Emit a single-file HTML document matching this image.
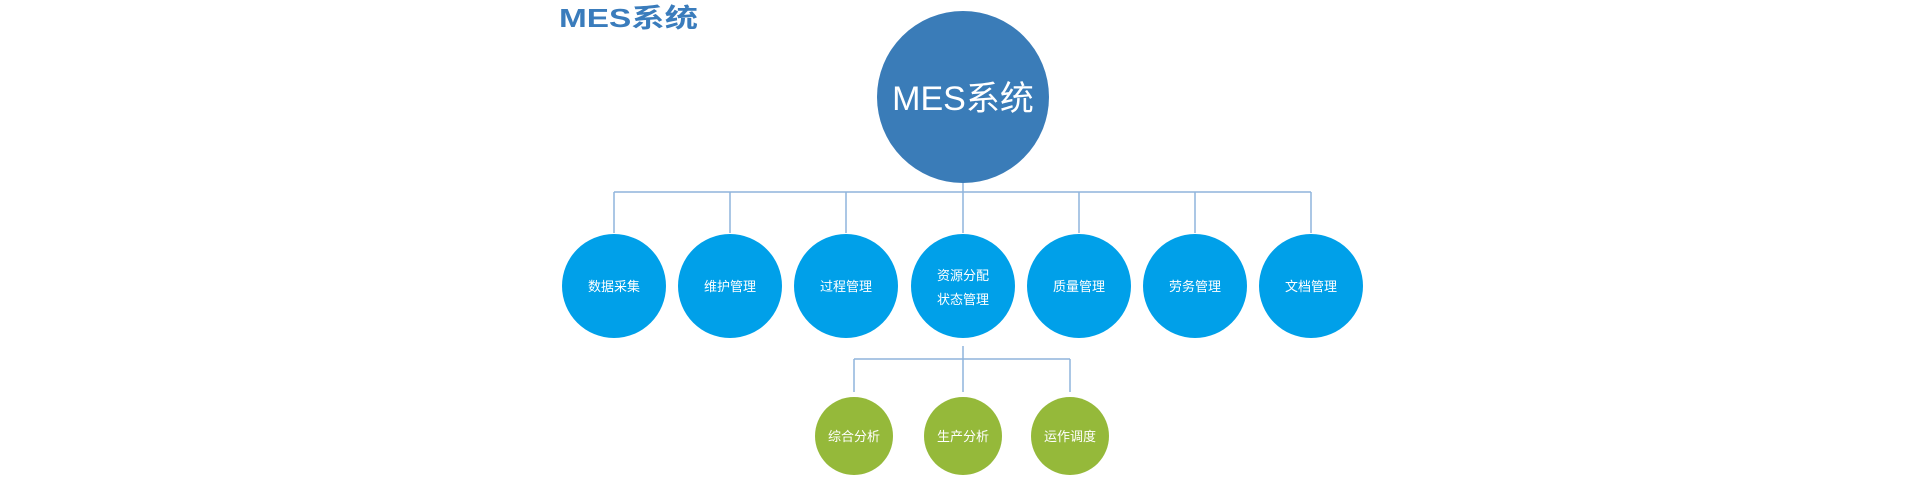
<!DOCTYPE html>
<html><head><meta charset="utf-8"><style>
html,body{margin:0;padding:0;background:#fff;width:1920px;height:500px;overflow:hidden}
</style></head><body>
<svg width="1920" height="500" xmlns="http://www.w3.org/2000/svg" style="display:block">
<text x="559" y="27" font-family="Liberation Sans, Noto Sans CJK SC, sans-serif" font-size="26" font-weight="bold" fill="#3a7cbc" textLength="139" lengthAdjust="spacingAndGlyphs">MES系统</text>
<g stroke="#8fb4dc" stroke-width="1.5" fill="none">
<line x1="614" y1="192" x2="1311" y2="192"/>
<line x1="963" y1="183" x2="963" y2="233"/>
<line x1="614" y1="192" x2="614" y2="233"/>
<line x1="730" y1="192" x2="730" y2="233"/>
<line x1="846" y1="192" x2="846" y2="233"/>
<line x1="1079" y1="192" x2="1079" y2="233"/>
<line x1="1195" y1="192" x2="1195" y2="233"/>
<line x1="1311" y1="192" x2="1311" y2="233"/>
<line x1="963" y1="346" x2="963" y2="392"/>
<line x1="854" y1="359" x2="1070" y2="359"/>
<line x1="854" y1="359" x2="854" y2="392"/>
<line x1="1070" y1="359" x2="1070" y2="392"/>
</g>
<circle cx="963" cy="97" r="86" fill="#3a7cb8"/>
<text x="963" y="110" text-anchor="middle" font-family="Liberation Sans, Noto Sans CJK SC, sans-serif" font-size="34" fill="#fff">MES系统</text>
<g fill="#00a0e9">
<circle cx="614" cy="286" r="52"/><circle cx="730" cy="286" r="52"/><circle cx="846" cy="286" r="52"/><circle cx="963" cy="286" r="52"/><circle cx="1079" cy="286" r="52"/><circle cx="1195" cy="286" r="52"/><circle cx="1311" cy="286" r="52"/>
</g>
<g fill="#95b93a">
<circle cx="854" cy="436" r="39"/><circle cx="963" cy="436" r="39"/><circle cx="1070" cy="436" r="39"/>
</g>
<g font-family="Liberation Sans, Noto Sans CJK SC, sans-serif" font-size="13" fill="#fff" text-anchor="middle">
<text x="614" y="291">数据采集</text>
<text x="730" y="291">维护管理</text>
<text x="846" y="291">过程管理</text>
<text x="963" y="280">资源分配</text>
<text x="963" y="304">状态管理</text>
<text x="1079" y="291">质量管理</text>
<text x="1195" y="291">劳务管理</text>
<text x="1311" y="291">文档管理</text>
<text x="854" y="441">综合分析</text>
<text x="963" y="441">生产分析</text>
<text x="1070" y="441">运作调度</text>
</g>
</svg>
</body></html>
